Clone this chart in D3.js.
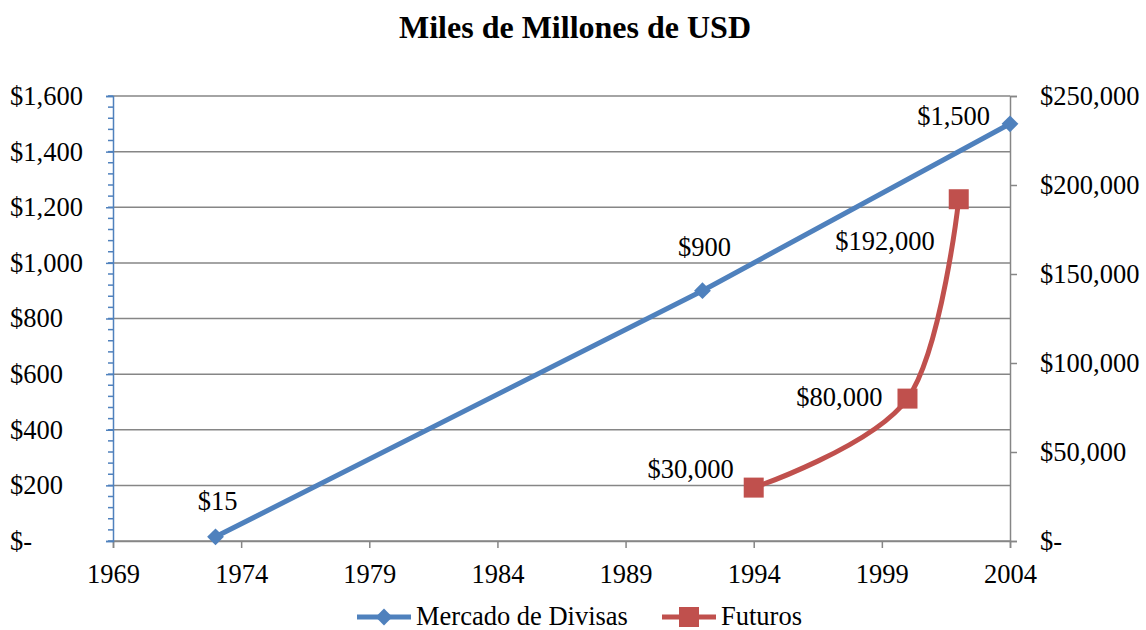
<!DOCTYPE html>
<html>
<head>
  <meta charset="utf-8">
  <title>Miles de Millones de USD</title>
  <script src="https://d3js.org/d3.v7.min.js"></script>
  <style>
    body { margin: 0; background: white; }
    text { font-family: "Liberation Serif", "Times New Roman", serif; fill: #000; }
  </style>
</head>
<body>
<div id="chart"></div>
<script>
var width = 1146;
var height = 630;

// data
var divisasYears = [1973, 1992, 2004];
var divisasValues = [15, 900, 1500];
var divisasLabels = ["$15", "$900", "$1,500"];

var futurosYears = [1994, 2000, 2002];
var futurosValues = [30000, 80000, 192000];
var futurosLabels = ["$30,000", "$80,000", "$192,000"];

var xTicks = [1969, 1974, 1979, 1984, 1989, 1994, 1999, 2004];
var leftTicks = [0, 200, 400, 600, 800, 1000, 1200, 1400, 1600];
var rightTicks = [0, 50000, 100000, 150000, 200000, 250000];

var blue = "#4f81bd";
var red = "#c0504d";
var grid = "#868686";
var fontSize = "26.5px";

var margin = {left: 113, right: 136, top: 96, bottom: 89};

var svg = d3.select("#chart").append("svg").attr("width", width).attr("height", height);

var x = d3.scaleLinear().domain([1969, 2004]).range([margin.left, width - margin.right]);
var yL = d3.scaleLinear().domain([0, 1600]).range([height - margin.bottom, margin.top]);
var yR = d3.scaleLinear().domain([0, 250000]).range([height - margin.bottom, margin.top]);

function money(v) {
  return v === 0 ? "$-" : "$" + d3.format(",")(v);
}

// title
svg.append("text")
  .attr("x", 575).attr("y", 38)
  .attr("text-anchor", "middle")
  .style("font-size", "32px").style("font-weight", "bold")
  .text("Miles de Millones de USD");

// gridlines
svg.append("g").selectAll("line")
  .data(leftTicks)
  .enter().append("line")
  .attr("x1", x.range()[0]).attr("x2", x.range()[1])
  .attr("y1", function(d) { return yL(d); })
  .attr("y2", function(d) { return yL(d); })
  .attr("stroke", grid).attr("stroke-width", 1.5);

// x axis
var xAxis = svg.append("g")
  .attr("transform", "translate(0," + yL(0) + ")")
  .call(d3.axisBottom(x).tickValues(xTicks).tickFormat(d3.format("d")).tickSize(7));

// right axis
var rAxis = svg.append("g")
  .attr("transform", "translate(" + x.range()[1] + ",0)")
  .call(d3.axisRight(yR).tickValues(rightTicks).tickFormat(money).tickSize(7).tickPadding(23));

// left axis minor ticks
svg.append("g").selectAll("line")
  .data(d3.range(0, 1601, 40))
  .enter().append("line")
  .attr("x1", x.range()[0] - 5).attr("x2", x.range()[0])
  .attr("y1", function(d) { return yL(d); })
  .attr("y2", function(d) { return yL(d); })
  .attr("stroke", blue).attr("stroke-width", 1.5);

// left axis
var lAxis = svg.append("g")
  .attr("transform", "translate(" + x.range()[0] + ",0)")
  .call(d3.axisLeft(yL).tickValues(leftTicks).tickFormat(money).tickSize(7));

[xAxis, rAxis].forEach(function(a) {
  a.selectAll("path, line").attr("stroke", grid).attr("stroke-width", 1.5);
});
lAxis.selectAll("path, line").attr("stroke", blue).attr("stroke-width", 1.5);
[xAxis, rAxis, lAxis].forEach(function(a) {
  a.selectAll("text").style("font-size", fontSize).style("font-family", "Liberation Serif").attr("fill", "#000");
});
lAxis.selectAll("text").attr("text-anchor", "start").attr("x", -103);
xAxis.selectAll("text").attr("y", 42).attr("dy", 0);

// series
var divisas = divisasYears.map(function(d, i) { return {x: d, y: divisasValues[i], label: divisasLabels[i]}; });
var futuros = futurosYears.map(function(d, i) { return {x: d, y: futurosValues[i], label: futurosLabels[i]}; });

svg.append("path")
  .datum(divisas)
  .attr("fill", "none").attr("stroke", blue).attr("stroke-width", 5)
  .attr("d", d3.line().x(function(d) { return x(d.x); }).y(function(d) { return yL(d.y); }));

svg.append("path")
  .datum(futuros)
  .attr("fill", "none").attr("stroke", red).attr("stroke-width", 5)
  .attr("d", d3.line().curve(d3.curveCardinal.tension(0)).x(function(d) { return x(d.x); }).y(function(d) { return yR(d.y); }));

var diamond = d3.symbol().type(d3.symbolDiamond2).size(180);
svg.append("g").selectAll("path")
  .data(divisas)
  .enter().append("path")
  .attr("d", diamond)
  .attr("transform", function(d) { return "translate(" + x(d.x) + "," + yL(d.y) + ")"; })
  .attr("fill", blue);

svg.append("g").selectAll("rect")
  .data(futuros)
  .enter().append("rect")
  .attr("x", function(d) { return x(d.x) - 10; })
  .attr("y", function(d) { return yR(d.y) - 10; })
  .attr("width", 20).attr("height", 20)
  .attr("fill", red);

// data labels
var divOffsets = [[2, -27, "middle"], [2, -35, "middle"], [-20, 1, "end"]];
svg.append("g").selectAll("text")
  .data(divisas)
  .enter().append("text")
  .attr("x", function(d, i) { return x(d.x) + divOffsets[i][0]; })
  .attr("y", function(d, i) { return yL(d.y) + divOffsets[i][1]; })
  .attr("text-anchor", function(d, i) { return divOffsets[i][2]; })
  .style("font-size", fontSize)
  .text(function(d) { return d.label; });

var futOffsets = [[-20, -10], [-25, 7], [-24, 51]];
svg.append("g").selectAll("text")
  .data(futuros)
  .enter().append("text")
  .attr("x", function(d, i) { return x(d.x) + futOffsets[i][0]; })
  .attr("y", function(d, i) { return yR(d.y) + futOffsets[i][1]; })
  .attr("text-anchor", "end")
  .style("font-size", fontSize)
  .text(function(d) { return d.label; });

// legend
var legend = svg.append("g").attr("transform", "translate(0,617)");
var items = [
  {name: "Mercado de Divisas", color: blue, x0: 357, shape: "diamond"},
  {name: "Futuros", color: red, x0: 662, shape: "square"}
];
items.forEach(function(it) {
  legend.append("line")
    .attr("x1", it.x0).attr("x2", it.x0 + 54)
    .attr("stroke", it.color).attr("stroke-width", 5);
  if (it.shape === "diamond") {
    legend.append("path").attr("d", diamond).attr("transform", "translate(" + (it.x0 + 27) + ",0)").attr("fill", it.color);
  } else {
    legend.append("rect").attr("x", it.x0 + 17).attr("y", -10).attr("width", 20).attr("height", 20).attr("fill", it.color);
  }
  legend.append("text")
    .attr("x", it.x0 + 59).attr("y", 8)
    .style("font-size", fontSize)
    .text(it.name);
});
</script>
</body>
</html>
